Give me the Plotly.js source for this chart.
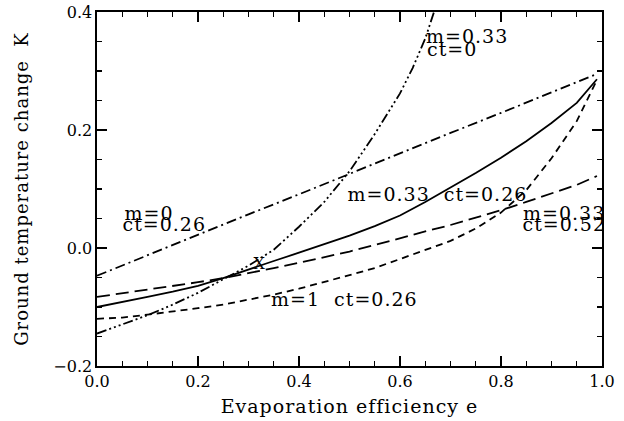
<!DOCTYPE html>
<html>
<head>
<meta charset="utf-8">
<script src="https://cdn.plot.ly/plotly-3.0.1.min.js"></script>
<style>
html,body{margin:0;padding:0;background:#fff;}
#chart{width:624px;height:421px;}
#chart .annotation-text, #chart .xtitle, #chart .ytitle { letter-spacing: 1px; }
</style>
</head>
<body>
<div id="chart"></div>
<script>
// Evaporation efficiency grid
var eFull = [0, 0.05, 0.1, 0.15, 0.2, 0.25, 0.3, 0.35, 0.4, 0.45, 0.5, 0.55, 0.6, 0.65, 0.7, 0.75, 0.8, 0.85, 0.9, 0.95, 0.99];
var eShort = [0, 0.05, 0.1, 0.15, 0.2, 0.25, 0.3, 0.35, 0.4, 0.45, 0.5, 0.55, 0.6, 0.625, 0.65, 0.675];
var eLine = [0, 0.1, 0.2, 0.3, 0.4, 0.5, 0.6, 0.7, 0.8, 0.9, 0.99];

// m=0.33 ct=0.26 (solid)
var tM033ct026 = [-0.100, -0.092, -0.083, -0.074, -0.064, -0.051, -0.036, -0.022, -0.008, 0.006, 0.021, 0.037, 0.055, 0.078, 0.102, 0.127, 0.153, 0.181, 0.212, 0.246, 0.286];
// m=0.33 ct=0.52 (long dash)
var tM033ct052 = [-0.083, -0.077, -0.071, -0.064, -0.058, -0.051, -0.043, -0.034, -0.025, -0.016, -0.006, 0.005, 0.017, 0.028, 0.039, 0.051, 0.064, 0.078, 0.093, 0.107, 0.122];
// m=1 ct=0.26 (short dash)
var tM1ct026 = [-0.120, -0.118, -0.113, -0.108, -0.102, -0.096, -0.088, -0.079, -0.069, -0.058, -0.046, -0.034, -0.019, -0.004, 0.012, 0.033, 0.060, 0.098, 0.152, 0.215, 0.285];
// m=0 ct=0.26 (dash dot)
var tM0ct026 = [-0.047, -0.012, 0.022, 0.057, 0.091, 0.126, 0.160, 0.195, 0.229, 0.264, 0.295];
// m=0.33 ct=0 (dash dot dot dot)
var tM033ct0 = [-0.145, -0.130, -0.114, -0.096, -0.076, -0.053, -0.030, -0.003, 0.036, 0.078, 0.130, 0.193, 0.262, 0.305, 0.355, 0.420];

var labelText = ['m=0.33', 'ct=0', 'm=0', 'ct=0.26', 'm=0.33  ct=0.26', 'm=0.33', 'ct=0.52', 'm=1  ct=0.26', 'X'];
var labelX = [0.654, 0.654, 0.054, 0.054, 0.507, 0.846, 0.846, 0.353, 0.323];
var labelY = [0.359, 0.337, 0.059, 0.041, 0.092, 0.059, 0.041, -0.086, -0.027];

var FONT = 'DejaVu Serif, serif';
var lw = 1.8;

var traces = [
  {x: eFull, y: tM033ct026, mode: 'lines', line: {color: '#000', width: lw, dash: 'solid'}},
  {x: eFull, y: tM033ct052, mode: 'lines', line: {color: '#000', width: lw, dash: '13px,6px'}},
  {x: eFull, y: tM1ct026, mode: 'lines', line: {color: '#000', width: lw, dash: '7px,5px'}},
  {x: eLine, y: tM0ct026, mode: 'lines', line: {color: '#000', width: lw, dash: '10px,4px,2px,4px'}},
  {x: eShort, y: tM033ct0, mode: 'lines', line: {color: '#000', width: lw, dash: '10px,3px,2px,3px,2px,3px,2px,3px'}}
];

var annotations = labelText.map(function (t, i) {
  return {
    x: labelX[i], y: labelY[i], xref: 'x', yref: 'y', text: t,
    showarrow: false, xanchor: (t === 'X' ? 'center' : 'left'), yanchor: 'middle',
    font: {family: FONT, size: (t === 'X' ? 16 : 19), color: '#000'}
  };
});

function axisBase() {
  return {
    showline: true, linecolor: '#000', linewidth: 1.6, mirror: 'allticks',
    ticks: 'inside', ticklen: 10, tickwidth: 1.4, tickcolor: '#000',
    dtick: 0.2, tickformat: '.1f',
    showgrid: false, zeroline: false,
    tickfont: {family: FONT, size: 16, color: '#000'},
    minor: {ticks: 'inside', ticklen: 5, tickwidth: 1.4, tickcolor: '#000', dtick: 0.05}
  };
}

var xaxis = axisBase();
xaxis.range = [0, 1];
xaxis.title = {text: 'Evaporation efficiency e', font: {family: FONT, size: 19, color: '#000'}, standoff: 10};

var yaxis = axisBase();
yaxis.range = [-0.2, 0.4];
yaxis.title = {text: 'Ground temperature change  K', font: {family: FONT, size: 18, color: '#000'}, standoff: 20};

var layout = {
  width: 624, height: 421,
  margin: {l: 97, r: 22, t: 12, b: 55},
  paper_bgcolor: '#fff', plot_bgcolor: '#fff',
  showlegend: false,
  xaxis: xaxis,
  yaxis: yaxis,
  annotations: annotations
};

Plotly.newPlot('chart', traces, layout, {staticPlot: true, displayModeBar: false});
</script>
</body>
</html>
